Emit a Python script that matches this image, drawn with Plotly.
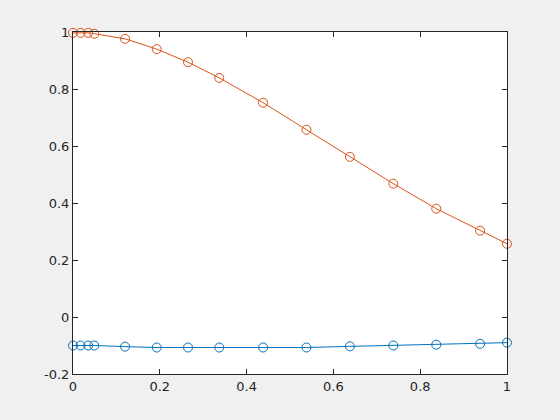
import plotly.graph_objects as go

x_vals = [0, 0.0175, 0.035, 0.049, 0.12, 0.193, 0.265, 0.337, 0.438, 0.538, 0.638, 0.738, 0.837, 0.938, 1.0]
orange_y = [0.997, 0.997, 0.997, 0.994, 0.976, 0.940, 0.894, 0.839, 0.752, 0.657, 0.562, 0.468, 0.380, 0.303, 0.257]
blue_y = [-0.100, -0.100, -0.100, -0.100, -0.104, -0.107, -0.107, -0.107, -0.107, -0.107, -0.103, -0.100, -0.097, -0.094, -0.090]

x_ticks = [0, 0.2, 0.4, 0.6, 0.8, 1]
x_ticklabels = ["0", "0.2", "0.4", "0.6", "0.8", "1"]
y_ticks = [-0.2, 0, 0.2, 0.4, 0.6, 0.8, 1]
y_ticklabels = ["-0.2", "0", "0.2", "0.4", "0.6", "0.8", "1"]

fig = go.Figure()
fig.add_trace(go.Scatter(x=x_vals, y=blue_y, mode="lines+markers", cliponaxis=False,
                         line=dict(color="#0072BD", width=1),
                         marker=dict(symbol="circle-open", size=9, color="#0072BD", line=dict(width=1))))
fig.add_trace(go.Scatter(x=x_vals, y=orange_y, mode="lines+markers", cliponaxis=False,
                         line=dict(color="#D95319", width=1),
                         marker=dict(symbol="circle-open", size=9, color="#D95319", line=dict(width=1))))

axis_common = dict(showline=True, linecolor="#262626", linewidth=1, mirror="ticks",
                   ticks="inside", ticklen=5, tickcolor="#262626", showgrid=False, zeroline=False,
                   tickfont=dict(family="DejaVu Sans", size=13, color="#262626"))

fig.update_layout(
    width=560, height=420,
    paper_bgcolor="#F0F0F0", plot_bgcolor="white",
    margin=dict(l=73, r=53, t=32, b=46),
    showlegend=False,
    xaxis=dict(range=[0, 1], tickvals=x_ticks, ticktext=x_ticklabels, **axis_common),
    yaxis=dict(range=[-0.2, 1], tickvals=y_ticks, ticktext=y_ticklabels, **axis_common),
)
fig.write_html("out.html", config={"displayModeBar": False},
               post_script="document.body.style.margin='0';document.body.style.background='#F0F0F0';")
